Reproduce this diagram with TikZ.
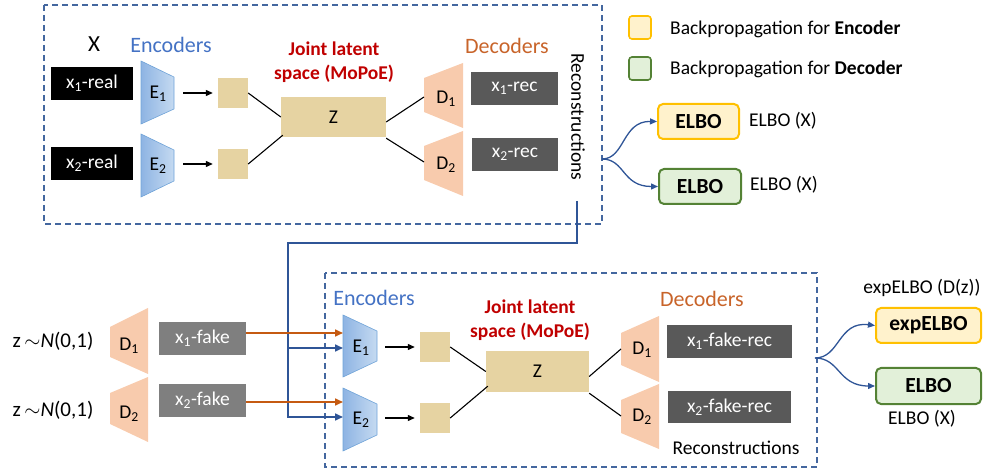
\documentclass[tikz,border=0pt]{standalone}
\usepackage{fontspec}
\setmainfont{Carlito}
\usetikzlibrary{arrows.meta}

\definecolor{encblue}{HTML}{4472C4}
\definecolor{frameblue}{HTML}{44679F}
\definecolor{connblue}{HTML}{2F5597}
\definecolor{connorange}{HTML}{C55A11}
\definecolor{jointred}{HTML}{C00000}
\definecolor{decorange}{HTML}{C8642A}
\definecolor{decfill}{HTML}{F8CBAD}
\definecolor{encleft}{HTML}{8EB4E3}
\definecolor{encright}{HTML}{C5DAF1}
\definecolor{encedge}{HTML}{6FA3D8}
\definecolor{latfill}{HTML}{E6D3A2}
\definecolor{recgray}{HTML}{595959}
\definecolor{fakegray}{HTML}{7F7F7F}
\definecolor{yelfill}{HTML}{FFF2CC}
\definecolor{yeledge}{HTML}{FFC000}
\definecolor{grnfill}{HTML}{E2F0D9}
\definecolor{grnedge}{HTML}{548235}

\tikzset{
  txt/.style={font=\fontsize{19.5}{22}\selectfont, inner sep=0pt},
  head/.style={font=\fontsize{22}{25}\selectfont, inner sep=0pt},
  databox/.style={txt, text=white, minimum height=33},
  latent/.style={fill=latfill, minimum width=30, minimum height=30, inner sep=0pt},
  encshape/.style={left color=encleft, right color=encright, draw=encedge, line width=0.6pt},
  decshape/.style={fill=decfill, draw=none},
  frame/.style={draw=frameblue, line width=1.4pt, dash pattern=on 6pt off 4pt},
  link/.style={draw=black, line width=1.1pt},
  blkarrow/.style={draw=black, line width=1.2pt, -{Triangle[length=7pt,width=6pt]}},
  bluearrow/.style={draw=connblue, line width=1.6pt, -{Triangle[length=8pt,width=7pt]}},
  orgarrow/.style={draw=connorange, line width=1.6pt, -{Triangle[length=8pt,width=7pt]}},
  curvearrow/.style={draw=connblue, line width=1.3pt, -{Triangle[length=7pt,width=6pt]}},
  lossbox/.style={font=\fontsize{21.5}{24}\selectfont\bfseries, rounded corners=5pt,
    line width=2pt, inner sep=0pt, minimum height=35},
  legbox/.style={rounded corners=3pt, line width=1.6pt, minimum width=22, minimum height=23, inner sep=0pt},
}

\begin{document}
\begin{tikzpicture}[x=1pt, y=-1pt]
\useasboundingbox (0,0) rectangle (983,470);

% ---------- upper stage: real inputs ----------
\draw[frame] (44,5) rectangle (602,224);

\node[txt, font=\fontsize{23}{26}\selectfont] (X) at (94,44) {X};
\node[head, text=encblue] (encT) at (171,45) {Encoders};
\node[txt, text=jointred, font=\fontsize{19.5}{24}\selectfont\bfseries, align=center] (jointT) at (334,62) {Joint latent\\space (MoPoE)};
\node[head, text=decorange] (decT) at (507,46) {Decoders};

\node[databox, fill=black, minimum width=82] (x1r) at (92,83.5) {x\textsubscript{1}-real};
\node[databox, fill=black, minimum width=82] (x2r) at (92,163.5) {x\textsubscript{2}-real};

% encoders
\path[encshape] (141,61) -- (174,77) -- (174,109) -- (141,124) -- cycle;
\path[encshape] (141,134) -- (174,150) -- (174,181) -- (141,197) -- cycle;
\node[txt] (E1) at (158,94) {E\textsubscript{1}};
\node[txt] (E2) at (158,166) {E\textsubscript{2}};
\coordinate (E1r) at (174,93);
\coordinate (E2r) at (174,164);

% latent codes
\node[latent] (l1) at (233,93) {};
\node[latent] (l2) at (233,164) {};
\node[latent, minimum width=105, minimum height=40, txt] (Z) at (333.5,117) {Z};

\draw[blkarrow, shorten <=9pt, shorten >=5pt] (E1r) -- (l1.west);
\draw[blkarrow, shorten <=9pt, shorten >=5pt] (E2r) -- (l2.west);
\draw[link] (l1.east) -- (Z.west);
\draw[link] (l2.east) -- ([shift={(2,-2)}]Z.south west);

% decoders
\path[decshape] (424,78) -- (463,63) -- (463,128) -- (424,112) -- cycle;
\path[decshape] (424,146) -- (463,131) -- (463,196) -- (424,180) -- cycle;
\node[txt] (D1) at (446,99) {D\textsubscript{1}};
\node[txt] (D2) at (446,165) {D\textsubscript{2}};
\coordinate (D1l) at (424,97);
\coordinate (D2l) at (424,162);
\draw[link] ([yshift=-5]Z.east) -- (D1l);
\draw[link] ([yshift=-1]Z.south east) -- (D2l);

\node[databox, fill=recgray, minimum width=87] (x1rec) at (514.5,88.5) {x\textsubscript{1}-rec};
\node[databox, fill=recgray, minimum width=86] (x2rec) at (515,154.5) {x\textsubscript{2}-rec};
\node[txt, rotate=-90] (recA) at (578,117) {Reconstructions};

% ---------- legend ----------
\node[legbox, draw=yeledge, fill=yelfill] (legE) at (640,27.5) {};
\node[legbox, draw=grnedge, fill=grnfill] (legD) at (640,68.5) {};
\node[txt, anchor=west] (legEt) at (670,29) {Backpropagation for \textbf{Encoder}};
\node[txt, anchor=west] (legDt) at (670,69) {Backpropagation for \textbf{Decoder}};

% ---------- upper losses ----------
\coordinate (srcA) at (602,159);
\node[lossbox, draw=yeledge, fill=yelfill, minimum width=81] (elboA) at (698.5,121.5) {ELBO};
\node[lossbox, draw=grnedge, fill=grnfill, minimum width=82] (elboB) at (700,186.5) {ELBO};
\node[txt, anchor=west] (elboAt) at (749,121) {ELBO (X)};
\node[txt, anchor=west] (elboBt) at (750,185) {ELBO (X)};
\draw[curvearrow] (srcA) .. controls (625,159) and (622,121) .. (elboA.west);
\draw[curvearrow] (srcA) .. controls (625,159) and (622,186.5) .. (elboB.west);

% ---------- prior samples ----------
\node[txt, font=\fontsize{21}{24}\selectfont] (zA) at (53,341) {z\,$\sim$\textit{N}(0,1)};
\node[txt, font=\fontsize{21}{24}\selectfont] (zB) at (53,410) {z\,$\sim$\textit{N}(0,1)};
\path[decshape] (110,327) -- (148,308) -- (148,374) -- (110,357) -- cycle;
\path[decshape] (110,393) -- (148,377) -- (148,442) -- (110,424) -- cycle;
\node[txt] (Dp1) at (129,346) {D\textsubscript{1}};
\node[txt] (Dp2) at (129,414) {D\textsubscript{2}};
\node[databox, fill=fakegray, minimum width=87] (x1f) at (202.5,338.5) {x\textsubscript{1}-fake};
\node[databox, fill=fakegray, minimum width=87] (x2f) at (202.5,400.5) {x\textsubscript{2}-fake};

% ---------- lower stage: fake inputs ----------
\draw[frame] (325,273) rectangle (817,467);

\node[head, text=encblue] (encB) at (374,298) {Encoders};
\node[txt, text=jointred, font=\fontsize{19.5}{24}\selectfont\bfseries, align=center] (jointB) at (530,320) {Joint latent\\space (MoPoE)};
\node[head, text=decorange] (decB) at (702,299) {Decoders};

\path[encshape] (343,315) -- (377,331) -- (377,361) -- (343,377) -- cycle;
\path[encshape] (343,388) -- (377,404) -- (377,435) -- (343,451) -- cycle;
\node[txt] (Ef1) at (361,348) {E\textsubscript{1}};
\node[txt] (Ef2) at (361,420) {E\textsubscript{2}};
\coordinate (Ef1r) at (377,347);
\coordinate (Ef2r) at (377,418);
\coordinate (Ef1a) at (343,333);
\coordinate (Ef1b) at (343,348);
\coordinate (Ef2a) at (343,402);
\coordinate (Ef2b) at (343,417);

\node[latent] (l3) at (435,347) {};
\node[latent] (l4) at (435,418) {};
\node[latent, minimum width=103, minimum height=41, txt] (Zf) at (537.5,371.5) {Z};

\draw[blkarrow, shorten <=8pt, shorten >=5pt] (Ef1r) -- (l3.west);
\draw[blkarrow, shorten <=8pt, shorten >=5pt] (Ef2r) -- (l4.west);
\draw[link] (l3.east) -- (Zf.west);
\draw[link] (l4.east) -- ([shift={(2,-6)}]Zf.south west);

\path[decshape] (621,333) -- (659,316) -- (659,382) -- (621,365) -- cycle;
\path[decshape] (621,400) -- (659,384) -- (659,449) -- (621,433) -- cycle;
\node[txt] (Df1) at (642,350) {D\textsubscript{1}};
\node[txt] (Df2) at (642,417) {D\textsubscript{2}};
\coordinate (Df1l) at (621,349);
\coordinate (Df2l) at (621,416);
\draw[link] ([yshift=-5]Zf.east) -- (Df1l);
\draw[link] ([yshift=-1]Zf.south east) -- (Df2l);

\node[databox, fill=recgray, minimum width=125] (x1fr) at (729.5,341.5) {x\textsubscript{1}-fake-rec};
\node[databox, fill=recgray, minimum width=123, minimum height=32] (x2fr) at (729.5,407) {x\textsubscript{2}-fake-rec};
\node[txt] (recB) at (736,448) {Reconstructions};

% ---------- lower losses ----------
\coordinate (srcB) at (815,358);
\node[lossbox, draw=yeledge, fill=yelfill, minimum width=105] (expA) at (928.5,325.5) {expELBO};
\node[lossbox, draw=grnedge, fill=grnfill, minimum width=105, minimum height=36] (elboC) at (928.5,386) {ELBO};
\node[txt] (expAt) at (922,288) {expELBO (D(z))};
\node[txt] (elboCt) at (922,419) {ELBO (X)};
\draw[curvearrow] (srcB) .. controls (840,358) and (838,321) .. (expA.west);
\draw[curvearrow] (srcB) .. controls (840,358) and (838,386) .. (elboC.west);

% ---------- connectors between stages ----------
\coordinate (fbTop) at (577,201);
\coordinate (fbTurn) at (577,243);
\coordinate (fbLeft) at (288,243);
\coordinate (fbMid) at (288,348);
\coordinate (fbLow) at (288,417);
\draw[bluearrow] (fbTop) -- (fbTurn) -- (fbLeft) -- (fbLow) -- (Ef2b);
\draw[bluearrow] (fbMid) -- (Ef1b);
\draw[orgarrow] (x1f.east |- Ef1a) -- (Ef1a);
\draw[orgarrow] (x2f.east |- Ef2a) -- (Ef2a);

\end{tikzpicture}
\end{document}
